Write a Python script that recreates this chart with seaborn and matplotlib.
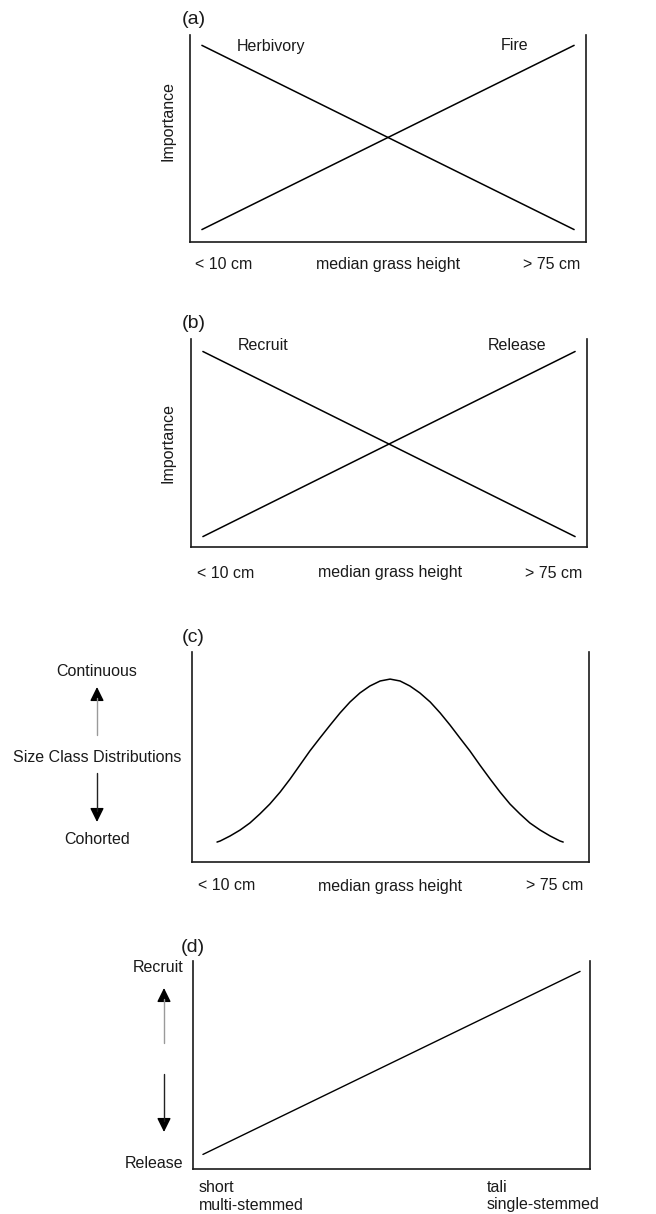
import numpy as np
import pandas as pd
import matplotlib
matplotlib.use('Agg')
import matplotlib.pyplot as plt
from matplotlib.lines import Line2D
from matplotlib.patches import FancyArrowPatch
import seaborn as sns

# Panel (a): importance of herbivory vs fire along grass height
x_ab = [0.03, 0.97]
herbivory = [0.95, 0.06]
fire = [0.06, 0.95]

# Panel (b): recruit vs release
recruit = [0.94, 0.05]
release = [0.05, 0.94]

# Panel (c): size class distributions
size_x = [0.063, 0.071, 0.096, 0.121, 0.146, 0.171, 0.196, 0.222, 0.247, 0.272,
          0.297, 0.322, 0.348, 0.373, 0.398, 0.423, 0.448, 0.474, 0.499,
          0.524, 0.549, 0.574, 0.600, 0.625, 0.650, 0.675, 0.700, 0.725,
          0.751, 0.776, 0.801, 0.826, 0.851, 0.877, 0.902, 0.927, 0.935]
size_y = [0.095, 0.100, 0.124, 0.152, 0.186, 0.229, 0.276, 0.333, 0.395, 0.462,
          0.529, 0.590, 0.652, 0.710, 0.762, 0.805, 0.838, 0.862, 0.871,
          0.862, 0.838, 0.805, 0.762, 0.710, 0.652, 0.590, 0.529, 0.462,
          0.395, 0.333, 0.276, 0.229, 0.186, 0.152, 0.124, 0.100, 0.095]

# Panel (d): recruit/release vs tree form
x_d = [0.025, 0.975]
y_d = [0.07, 0.95]

x_labels = ['< 10 cm', 'median grass height', '> 75 cm']
panel_tags = ['(a)', '(b)', '(c)', '(d)']

W, H = 656, 1214
FS = 11.5
TAG_FS = 14
INK = '#1a1a1a'

sns.set_style('white')
plt.rcParams['font.family'] = ['Liberation Sans', 'DejaVu Sans']

fig = plt.figure(figsize=(W / 100, H / 100), dpi=100)


def fx(x):
    return x / W


def fy(y):
    return 1 - y / H


def add_panel(left, top, right, bottom):
    ax = fig.add_axes([fx(left), fy(bottom), (right - left) / W, (bottom - top) / H])
    ax.set_xlim(0, 1)
    ax.set_ylim(0, 1)
    ax.set_xticks([])
    ax.set_yticks([])
    ax.spines['top'].set_visible(False)
    for s in ['left', 'right', 'bottom']:
        ax.spines[s].set_color(INK)
        ax.spines[s].set_linewidth(1.2)
    ax.set_facecolor('none')
    return ax


def label(x, y, s, ha='left', size=FS, **kw):
    fig.text(fx(x), fy(y), s, ha=ha, va='center', fontsize=size, color=INK, **kw)


def arrow(x, y_start, y_tip, shaft_color):
    # shaft drawn separately so the up arrows can keep their faint grey stem
    head = 11 if y_tip < y_start else -11
    fig.add_artist(Line2D([fx(x), fx(x)], [fy(y_start), fy(y_tip + head)],
                          transform=fig.transFigure, color=shaft_color, lw=1.0))
    fig.add_artist(FancyArrowPatch((fx(x), fy(y_tip + head * 1.1)), (fx(x), fy(y_tip)),
                                   transform=fig.transFigure,
                                   arrowstyle='-|>,head_length=0.85,head_width=0.42',
                                   mutation_scale=10, color='black', lw=1.0,
                                   shrinkA=0, shrinkB=0))


def x_axis_text(y, left, center, right):
    label(left, y, x_labels[0])
    label(center, y, x_labels[1], ha='center')
    label(right, y, x_labels[2], ha='right')


def clean(ax):
    ax.set_xlabel('')
    ax.set_ylabel('')


# (a)
ax = add_panel(190, 35, 586, 242)
sns.lineplot(x=x_ab, y=herbivory, ax=ax, color='black', linewidth=1.1)
sns.lineplot(x=x_ab, y=fire, ax=ax, color='black', linewidth=1.1)
clean(ax)
label(182, 20, panel_tags[0], size=TAG_FS)
label(237, 46, 'Herbivory')
label(501, 46, 'Fire')
label(168, 121, 'Importance', ha='center', rotation=90)
x_axis_text(265, 195, 388, 580)

# (b)
ax = add_panel(191, 339, 587, 547)
sns.lineplot(x=x_ab, y=recruit, ax=ax, color='black', linewidth=1.1)
sns.lineplot(x=x_ab, y=release, ax=ax, color='black', linewidth=1.1)
clean(ax)
label(182, 323, panel_tags[1], size=TAG_FS)
label(238, 346, 'Recruit')
label(488, 346, 'Release')
label(168, 443, 'Importance', ha='center', rotation=90)
x_axis_text(573, 197, 390, 582)

# (c)
ax = add_panel(192, 652, 589, 862)
curve = pd.DataFrame({'x': size_x, 'y': size_y})
sns.lineplot(data=curve, x='x', y='y', ax=ax, color='black', linewidth=1.1)
clean(ax)
label(182, 637, panel_tags[2], size=TAG_FS)
label(97, 672, 'Continuous', ha='center')
label(97, 757, 'Size Class Distributions', ha='center')
label(97, 840, 'Cohorted', ha='center')
arrow(97, 735, 687, '#9a9a9a')
arrow(97, 773, 822, '#222222')
x_axis_text(886, 198, 390, 583)

# (d)
ax = add_panel(193, 961, 590, 1169)
sns.lineplot(x=x_d, y=y_d, ax=ax, color='black', linewidth=1.0)
clean(ax)
label(181, 947, panel_tags[3], size=TAG_FS)
label(183, 968, 'Recruit', ha='right')
label(183, 1164, 'Release', ha='right')
arrow(164, 1043, 988, '#9a9a9a')
arrow(164, 1074, 1132, '#222222')
label(199, 1187, 'short')
label(199, 1205, 'multi-stemmed')
label(487, 1187, 'tali')
label(487, 1205, 'single-stemmed')

fig.savefig('out.png', dpi=100)
